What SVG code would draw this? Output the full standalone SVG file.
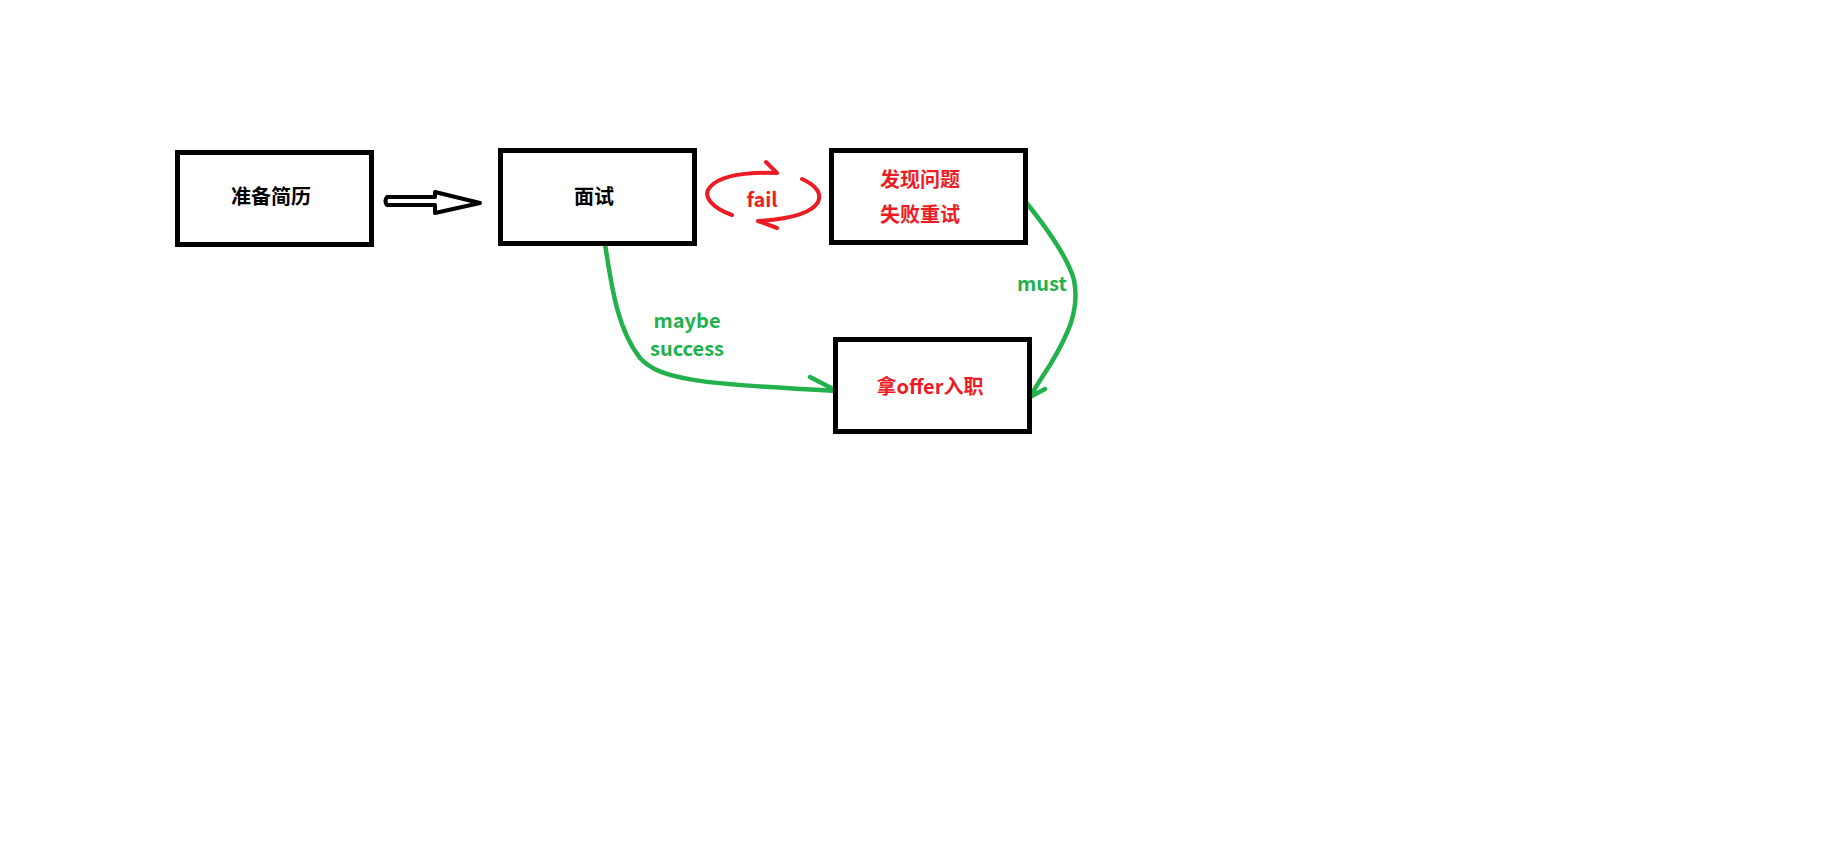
<svg xmlns="http://www.w3.org/2000/svg" width="1847" height="842" viewBox="0 0 1847 842">
<style>
.box{fill:#fff;stroke:#000;stroke-width:5}
.t{font-family:"Noto Sans CJK SC","Noto Sans",sans-serif;font-weight:bold;font-size:20px;text-anchor:middle}
.blk{fill:#000}
.red{fill:#ed1c24}
.grn{fill:#22b14c}
.gl{fill:none;stroke:#22b14c;stroke-width:4.5;stroke-linecap:round;stroke-linejoin:round}
.rl{fill:none;stroke:#ed1c24;stroke-width:4;stroke-linecap:round;stroke-linejoin:round}
</style>
<rect width="1847" height="842" fill="#fff"/>
<g id="connectors">
<path d="M387 197 L435 197 L435 192 L480 203 L435 213 L435 205 L387 205 Q384 201 387 197 Z" fill="#fff" stroke="#000" stroke-width="4" stroke-linejoin="round"/>
<path class="rl" d="M732 215 C712 208 702 196 710 187 C720 176 745 172 777 173 M766 162 L777 173"/>
<path class="rl" d="M802 179 C815 185 822 193 818 202 C812 213 790 219 758 221 M777 228 L758 221"/>
<path class="gl" d="M605 244 C612 290 618 330 640 358 C660 380 700 384 837 391 M810 377 L837 391"/>
<path class="gl" d="M1025 201 C1050 232 1068 258 1074 280 C1080 310 1068 335 1050 365 C1040 380 1034 390 1030 397 M1045 389 L1030 397"/>
</g>
<g id="n1"><rect class="box" x="177.5" y="152.5" width="194" height="92"/><text class="t blk" x="271" y="204">准备简历</text></g>
<g id="n2"><rect class="box" x="500.5" y="150.5" width="194" height="93"/><text class="t blk" x="594" y="204">面试</text></g>
<g id="n3"><rect class="box" x="831.5" y="150.5" width="194" height="92"/><text class="t red" x="920" y="187">发现问题</text><text class="t red" x="920" y="222">失败重试</text></g>
<g id="n4"><rect class="box" x="835.5" y="339.5" width="194" height="92"/><text class="t red" x="930" y="394">拿offer入职</text></g>
<g id="labels">
<text class="t red" x="762" y="207">fail</text>
<text class="t grn" x="687" y="328">maybe</text>
<text class="t grn" x="687" y="356">success</text>
<text class="t grn" x="1042" y="291">must</text>
</g>
</svg>
